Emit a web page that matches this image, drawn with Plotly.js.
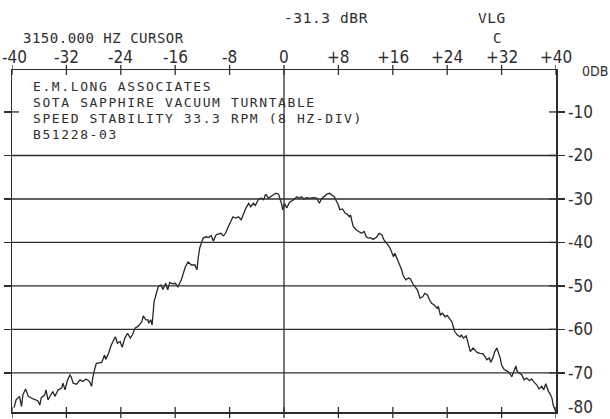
<!DOCTYPE html>
<html>
<head>
<meta charset="utf-8">
<script src="https://cdn.plot.ly/plotly-3.0.1.min.js"></script>
<style>html,body{margin:0;padding:0;background:#fff;}#chart{width:610px;height:419px;}</style>
</head>
<body>
<div id="chart"></div>
<script>
// ---- data (frequency offset in Hz, level in dB) ----
const freqHz = [
-39.7,-39.4,-38.9,-38.6,-38.4,-38.0,-37.6,-36.9,-36.2,-35.9,
-35.7,-35.2,-35.0,-34.7,-34.3,-34.0,-33.7,-33.2,-32.7,-32.5,
-32.2,-31.9,-31.5,-31.3,-31.0,-30.5,-30.0,-29.6,-29.1,-28.6,
-28.3,-28.1,-27.8,-27.6,-26.8,-26.4,-26.2,-25.8,-25.4,-25.1,
-24.8,-24.5,-24.1,-23.8,-23.4,-23.0,-22.6,-22.3,-21.9,-21.4,
-20.9,-20.7,-20.3,-20.0,-19.9,-19.6,-19.4,-19.1,-18.7,-18.5,
-18.1,-17.8,-17.4,-17.1,-16.8,-16.4,-16.0,-15.6,-15.1,-14.8,
-14.5,-14.1,-13.6,-13.1,-12.8,-12.6,-12.4,-11.9,-11.5,-11.1,
-10.7,-10.4,-10.0,-9.7,-9.3,-8.9,-8.6,-8.2,-7.8,-7.5,
-7.1,-6.7,-6.3,-6.0,-5.6,-5.2,-4.9,-4.5,-4.2,-3.8,
-3.4,-3.0,-2.7,-2.3,-1.9,-1.6,-1.2,-0.8,-0.6,-0.3,
-0.2,0.1,0.4,0.8,1.4,1.9,2.2,2.6,2.9,3.3,
3.8,4.3,4.8,5.2,5.5,5.9,6.3,6.7,7.0,7.4,
7.6,8.0,8.2,8.6,9.0,9.3,9.6,9.8,10.0,10.2,
10.6,11.1,11.4,11.8,12.1,12.4,12.7,13.1,13.6,14.0,
14.4,14.7,15.1,15.5,15.8,16.1,16.3,16.6,17.0,17.3,
17.5,17.9,18.3,18.6,18.9,19.3,19.6,20.0,20.4,20.7,
21.1,21.4,21.7,22.1,22.5,22.7,23.0,23.3,23.7,24.0,
24.3,24.7,24.9,25.1,25.5,25.9,26.1,26.4,26.8,27.1,
27.4,27.8,28.1,28.4,28.8,29.2,29.6,29.8,30.2,30.4,
30.7,31.0,31.3,31.5,31.8,32.0,32.4,32.7,33.1,33.5,
33.8,34.1,34.3,34.6,35.0,35.3,35.7,36.1,36.4,36.8,
37.2,37.5,37.9,38.2,38.5,38.9,39.1,39.4,39.6,39.9,40.0
];
const levelDb = [
-78.0,-76.2,-75.4,-77.7,-75.1,-73.7,-75.4,-76.0,-76.4,-77.4,
-75.7,-75.1,-73.9,-76.2,-75.1,-74.3,-75.4,-73.9,-73.5,-72.4,
-73.9,-72.0,-70.5,-70.9,-72.4,-72.6,-71.6,-72.0,-71.4,-72.0,
-73.1,-70.9,-68.9,-67.8,-67.6,-65.9,-66.9,-65.5,-63.6,-62.8,
-61.7,-63.2,-62.8,-64.1,-62.0,-60.9,-62.0,-61.3,-59.7,-59.2,
-58.2,-56.9,-57.8,-57.8,-58.6,-57.8,-59.0,-53.6,-50.9,-50.2,
-49.8,-50.8,-49.4,-50.9,-49.2,-49.5,-49.4,-50.2,-48.6,-47.1,
-45.6,-44.5,-45.2,-45.2,-46.3,-43.3,-41.3,-39.0,-38.7,-38.9,
-38.4,-39.7,-38.3,-38.1,-37.9,-38.5,-37.9,-36.4,-35.2,-34.1,
-34.4,-34.1,-34.8,-33.5,-32.1,-31.0,-31.8,-31.0,-31.5,-30.2,
-29.8,-30.2,-28.9,-29.8,-29.5,-29.1,-28.7,-28.9,-29.9,-31.4,
-32.5,-31.1,-32.1,-30.8,-30.2,-29.5,-29.8,-29.5,-30.0,-29.7,
-29.8,-29.7,-29.8,-31.0,-30.0,-29.5,-28.9,-28.7,-29.1,-29.5,
-30.2,-31.4,-32.5,-32.3,-33.3,-33.5,-34.1,-33.7,-35.2,-36.4,
-37.1,-37.5,-37.9,-37.5,-38.7,-39.0,-38.9,-39.3,-38.8,-37.9,
-38.3,-39.4,-40.2,-41.0,-42.1,-43.3,-42.5,-43.6,-44.8,-46.3,
-47.5,-48.6,-48.2,-48.4,-49.4,-50.2,-50.9,-52.8,-52.5,-51.7,
-52.1,-53.2,-54.0,-54.4,-55.1,-54.8,-56.7,-56.3,-57.1,-56.8,
-57.4,-58.3,-59.4,-60.5,-61.3,-61.7,-61.3,-62.0,-61.5,-63.2,
-65.1,-64.3,-64.7,-65.3,-65.5,-65.6,-66.3,-67.0,-66.6,-67.6,
-66.6,-65.1,-64.3,-65.1,-66.6,-68.2,-69.3,-69.5,-69.9,-70.9,
-69.7,-68.4,-69.7,-70.1,-70.5,-71.6,-71.2,-71.8,-71.4,-72.2,
-72.8,-73.7,-73.1,-73.9,-72.5,-74.3,-74.7,-75.8,-77.4,-78.7,-79.0
];
const xTickVals = [-40,-32,-24,-16,-8,0,8,16,24,32,40];
const xTickText = ['-40','-32','-24','-16','-8','0','+8','+16','+24','+32','+40'];
const yTickVals = [-10,-20,-30,-40,-50,-60,-70];
const yTickText = ['-10','-20','-30','-40','-50','-60','-70'];
const gridDb = [-20,-30,-40,-50,-60,-70];
const headerLines = ['E.M.LONG ASSOCIATES','SOTA SAPPHIRE VACUUM TURNTABLE','SPEED STABILITY 33.3 RPM (8 HZ-DIV)','B51228-03'];
const cursorText = '3150.000 HZ CURSOR';
const readoutText = '-31.3 dBR';
const modeText = 'VLG';
const cText = 'C';
const refText = '0DB';
const bottomLabel = '-80';

// ---- layout helpers (pixel -> paper) ----
const L=12, R=556, T=70, B=412;
const px = x => (x-L)/(R-L);
const py = y => (B-y)/(B-T);
const INK = '#2e2e2e';
const MONO = 'DejaVu Sans Mono, monospace';
const COND = 'DejaVu Sans Condensed, Liberation Sans Narrow, DejaVu Sans, sans-serif';
const spaced = (t, s) => '<span style="letter-spacing:' + s + 'px">' + t + '</span>';

const shapes = [];
const seg = (xref, yref, x0, x1, y0, y1, w) => shapes.push({type:'line', xref:xref, yref:yref, x0:x0, x1:x1, y0:y0, y1:y1, line:{color:INK, width:w||1.3}});
gridDb.forEach(v => seg('paper','y', 0, 1, v, v, 1.4));
seg('x','paper', 0, 0, 0, 1, 1.3);
// crossing ticks on the top edge, outward ticks on the bottom edge
xTickVals.forEach(v => { seg('x','paper', v, v, py(65), py(75)); seg('x','paper', v, v, py(407), py(418)); });
// inner halves of the right-hand ticks
yTickVals.forEach(v => seg('paper','y', px(549), 1, v, v));
seg('paper','y', 0, px(19), -10, -10);

const annotations = [];
const addText = (t, x, y, size, family, anchor, yanchor) => annotations.push({
  text:t, xref:'paper', yref:'paper', x:px(x), y:py(y), xanchor:anchor||'left', yanchor:yanchor||'middle',
  showarrow:false, font:{family:family, size:size, color:INK}
});
// top frequency scale labels, placed through the x axis scale
xTickVals.forEach((v,i) => annotations.push({
  text:xTickText[i], xref:'x', yref:'paper', x:v, y:py(57), xanchor:'center', yanchor:'middle',
  xshift:(i===0?2:0), showarrow:false, font:{family:COND, size:17, color:INK}
}));
addText(spaced(cursorText, 0.5), 21, 38, 14, MONO);
addText(spaced(readoutText, 0.6), 282, 18, 14.5, MONO);
addText(spaced(modeText, 0.5), 476, 18, 14.5, MONO);
addText(cText, 497, 38, 14, MONO, 'center');
addText(refText, 595, 71, 14, COND, 'center');
addText(bottomLabel, 566, 419, 17, COND, 'left', 'bottom');
const lineY = [86, 102, 118, 134];
headerLines.forEach((t,i) => addText(spaced(t, 1.6), 31, lineY[i], 13, MONO));

const trace = {
  x: freqHz, y: levelDb, type:'scatter', mode:'lines',
  line:{color:'#262626', width:1.3}, hoverinfo:'skip', cliponaxis:true
};

const layout = {
  width:610, height:419,
  margin:{l:L, r:610-R, t:T, b:419-B, pad:0},
  paper_bgcolor:'#ffffff', plot_bgcolor:'#ffffff',
  showlegend:false,
  xaxis:{
    range:[-40,40], side:'top', showline:true, mirror:true, linecolor:INK, linewidth:1.5,
    ticks:'', showticklabels:false,
    showgrid:false, zeroline:false, fixedrange:true
  },
  yaxis:{
    range:[-79,-0.35], side:'right', showline:true, mirror:'allticks', linecolor:INK, linewidth:1.5,
    ticks:'outside', ticklen:7, tickwidth:1.3, tickcolor:INK,
    tickmode:'array', tickvals:yTickVals, ticktext:yTickText,
    tickfont:{family:COND, size:17, color:INK},
    showgrid:false, zeroline:false, fixedrange:true
  },
  shapes:shapes,
  annotations:annotations
};

Plotly.newPlot('chart', [trace], layout, {staticPlot:true, displayModeBar:false});
</script>
</body>
</html>
